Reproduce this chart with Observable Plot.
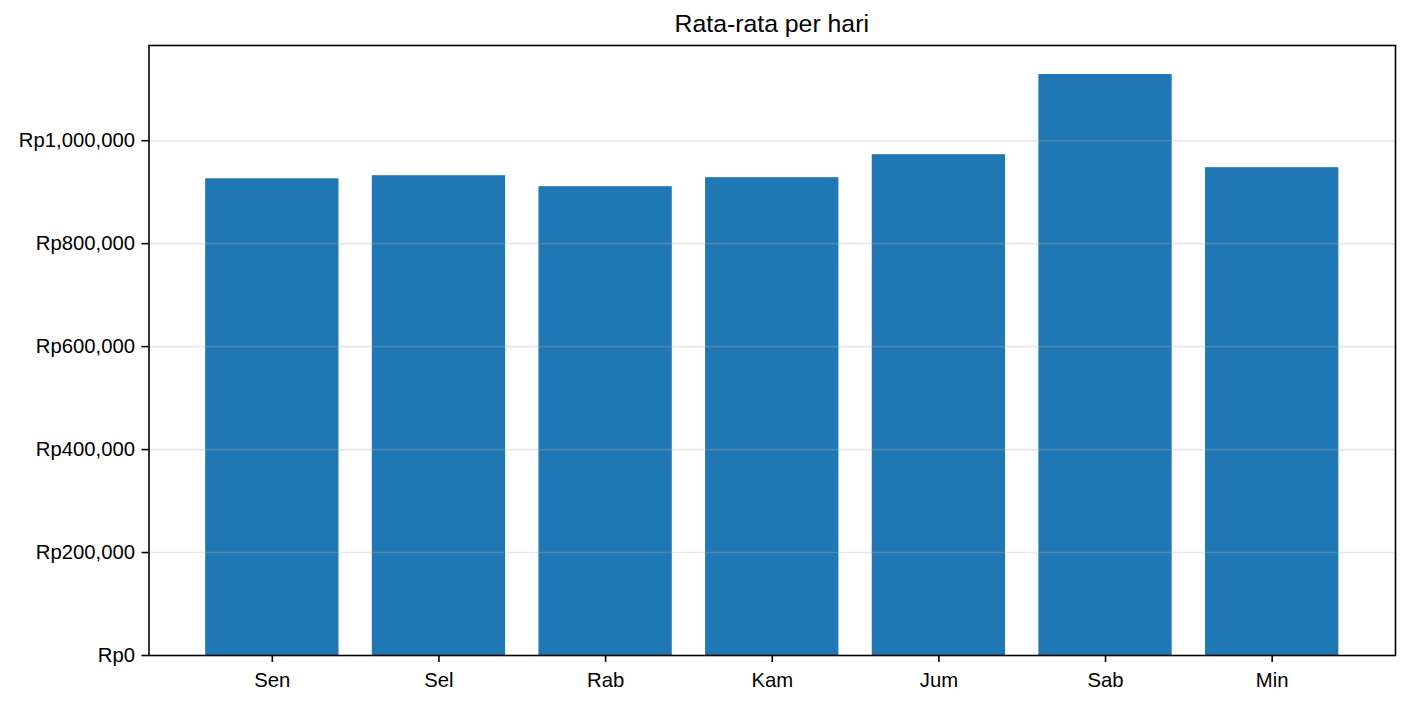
<!DOCTYPE html>
<html>
<head>
<meta charset="utf-8">
<script src="https://cdn.jsdelivr.net/npm/d3@7"></script>
<script src="https://cdn.jsdelivr.net/npm/@observablehq/plot@0.6"></script>
<style>
  body { margin: 0; background: white; font-family: "Liberation Sans", Arial, Helvetica, sans-serif; }
  #title { height: 40px; box-sizing: border-box; padding: 12px 15px 0 148.5px; text-align: center;
           font-size: 24.8px; line-height: 24.8px; color: #000; white-space: nowrap; }
  #chart svg { overflow: visible; }
</style>
</head>
<body>
<div id="title">Rata-rata per hari</div>
<div id="chart"></div>
<script>
const days = ["Sen", "Sel", "Rab", "Kam", "Jum", "Sab", "Min"];
const averages = [926000, 932000, 910700, 928200, 972800, 1128500, 947600];
const yTicks = [0, 200000, 400000, 600000, 800000, 1000000];

const data = days.map((d, i) => ({day: d, value: averages[i]}));
const fmt = d3.format(",");
const yMax = d3.max(averages) * 1.05;

const chart = Plot.plot({
  width: 1410,
  height: 664,
  marginTop: 5,
  marginLeft: 148.5,
  marginRight: 15,
  marginBottom: 49,
  style: {fontFamily: '"Liberation Sans", Arial, Helvetica, sans-serif', fontSize: "20px", color: "#000", background: "white"},
  x: {domain: days, paddingInner: 0.2, paddingOuter: 0.34, round: false, label: null},
  y: {domain: [0, yMax], label: null},
  marks: [
    Plot.barY(data, {x: "day", y: "value", fill: "#1f77b4"}),
    Plot.ruleY(yTicks.slice(1), {stroke: "#b0b0b0", strokeOpacity: 0.3, strokeWidth: 1.6}),
    Plot.frame({stroke: "#000", strokeWidth: 1.6}),
    Plot.axisY({ticks: yTicks, tickFormat: d => "Rp" + fmt(d), tickSize: 7, tickPadding: 7, strokeWidth: 1.6, fontSize: 20.3, label: null}),
    Plot.axisX({tickSize: 7, tickPadding: 10, strokeWidth: 1.6, fontSize: 20.3, label: null})
  ]
});
document.getElementById("chart").appendChild(chart);
</script>
</body>
</html>
